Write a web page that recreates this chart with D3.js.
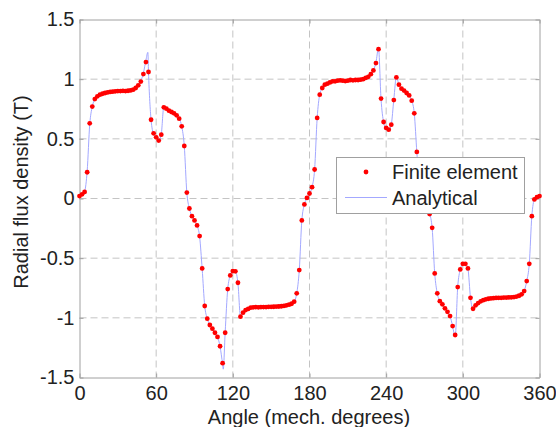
<!DOCTYPE html>
<html>
<head>
<meta charset="utf-8">
<script src="https://cdn.jsdelivr.net/npm/d3@7"></script>
<style>
  html, body { margin: 0; padding: 0; background: #fff; }
  svg { display: block; font-family: "Liberation Sans", Arial, Helvetica, sans-serif; }
</style>
</head>
<body>
<svg id="chart" width="556" height="427"></svg>
<script>
// Axis ticks
const xTicks = [0, 60, 120, 180, 240, 300, 360];
const yTicks = [-1.5, -1, -0.5, 0, 0.5, 1, 1.5];
const yTickLabels = ["-1.5", "-1", "-0.5", "0", "0.5", "1", "1.5"];

// Finite element samples: one every 2 mechanical degrees, 0..360
const feAngles = d3.range(0, 361, 2);
const feValues = [
  0.02, 0.035, 0.055, 0.22, 0.63, 0.77, 0.833, 0.856, 0.87, 0.878,
  0.884, 0.889, 0.893, 0.895, 0.898, 0.9, 0.9, 0.902, 0.9, 0.903,
  0.906, 0.912, 0.926, 0.948, 0.98, 1.043, 1.143, 1.06, 0.66, 0.546,
  0.513, 0.485, 0.535, 0.764, 0.753, 0.736, 0.725, 0.714, 0.697, 0.669,
  0.605, 0.44, 0.05, -0.084, -0.148, -0.184, -0.226, -0.315, -0.586, -0.901,
  -1.007, -1.06, -1.091, -1.125, -1.16, -1.238, -1.38, -1.125, -0.759, -0.645,
  -0.608, -0.61, -0.706, -0.99, -0.957, -0.935, -0.925, -0.915, -0.912, -0.91,
  -0.912, -0.91, -0.91, -0.91, -0.908, -0.908, -0.907, -0.906, -0.905, -0.903,
  -0.9, -0.895, -0.89, -0.882, -0.865, -0.795, -0.6, -0.184, -0.05, 0.005,
  0.042, 0.095, 0.243, 0.675, 0.87, 0.926, 0.954, 0.962, 0.973, 0.982,
  0.982, 0.987, 0.99, 0.987, 0.984, 0.987, 0.993, 0.99, 0.993, 0.993,
  0.996, 1.0, 1.01, 1.02, 1.042, 1.073, 1.135, 1.251, 0.837, 0.641,
  0.591, 0.577, 0.619, 0.825, 1.015, 0.954, 0.92, 0.904, 0.884, 0.864,
  0.82, 0.714, 0.39, 0.12, 0.0, -0.06, -0.1, -0.13, -0.246, -0.628,
  -0.795, -0.86, -0.887, -0.92, -0.95, -0.985, -1.069, -1.144, -0.742, -0.594,
  -0.547, -0.547, -0.586, -0.832, -0.924, -0.895, -0.876, -0.862, -0.852, -0.845,
  -0.84, -0.837, -0.835, -0.833, -0.832, -0.832, -0.83, -0.83, -0.829, -0.828,
  -0.826, -0.822, -0.815, -0.803, -0.776, -0.692, -0.547, -0.148, -0.008, 0.011,
  0.02
];

// Analytical solution on the same 2-degree grid
const analyticalValues = [
  0.02, 0.035, 0.06, 0.23, 0.62, 0.77, 0.833, 0.856, 0.87, 0.878,
  0.884, 0.889, 0.893, 0.895, 0.898, 0.9, 0.9, 0.902, 0.901, 0.903,
  0.906, 0.912, 0.926, 0.95, 0.985, 1.05, 1.16, 1.06, 0.66, 0.54,
  0.51, 0.485, 0.54, 0.77, 0.755, 0.738, 0.726, 0.714, 0.697, 0.67,
  0.605, 0.44, 0.05, -0.084, -0.148, -0.184, -0.226, -0.32, -0.59, -0.9,
  -1.007, -1.06, -1.091, -1.125, -1.16, -1.24, -1.39, -1.12, -0.76, -0.645,
  -0.605, -0.61, -0.71, -0.99, -0.957, -0.935, -0.925, -0.915, -0.912, -0.91,
  -0.912, -0.91, -0.91, -0.91, -0.908, -0.908, -0.907, -0.906, -0.905, -0.903,
  -0.9, -0.895, -0.89, -0.882, -0.865, -0.795, -0.6, -0.184, -0.05, 0.005,
  0.042, 0.095, 0.243, 0.675, 0.87, 0.926, 0.954, 0.962, 0.973, 0.982,
  0.982, 0.987, 0.99, 0.987, 0.984, 0.987, 0.993, 0.99, 0.993, 0.993,
  0.996, 1.0, 1.01, 1.02, 1.042, 1.075, 1.14, 1.26, 0.83, 0.64,
  0.585, 0.57, 0.62, 0.83, 1.02, 0.954, 0.92, 0.904, 0.884, 0.864,
  0.82, 0.714, 0.39, 0.12, 0.0, -0.06, -0.1, -0.13, -0.25, -0.628,
  -0.795, -0.86, -0.887, -0.92, -0.95, -0.985, -1.07, -1.16, -0.74, -0.594,
  -0.545, -0.545, -0.59, -0.832, -0.93, -0.895, -0.876, -0.862, -0.852, -0.845,
  -0.84, -0.837, -0.835, -0.833, -0.832, -0.832, -0.83, -0.83, -0.829, -0.828,
  -0.826, -0.822, -0.815, -0.803, -0.776, -0.692, -0.547, -0.148, -0.008, 0.011,
  0.02
];
// Extra analytical samples at the slot-opening extremes
const analyticalPeakAngles = [53.5, 112.5];
const analyticalPeakValues = [1.225, -1.43];

const legendLabels = ["Finite element", "Analytical"];

const feColor = "#ff0000";
const lineColor = "#a3a8ff";
const axisColor = "#a0a0a0";
const gridColor = "#c4c4c4";
const textColor = "#222";

const svg = d3.select("#chart");
const plot = { left: 79.5, right: 539.5, top: 19.5, bottom: 377.5 };

const x = d3.scaleLinear().domain([0, 360]).range([plot.left, plot.right]);
const y = d3.scaleLinear().domain([-1.5, 1.5]).range([plot.bottom, plot.top]);

// Dashed grid
const grid = svg.append("g");
grid.selectAll("line.vx")
  .data(xTicks.slice(1, -1))
  .join("line")
  .attr("x1", d => x(d)).attr("x2", d => x(d))
  .attr("y1", plot.top).attr("y2", plot.bottom)
  .attr("stroke", gridColor).attr("stroke-width", 1)
  .attr("stroke-dasharray", "7,4");
grid.selectAll("line.hy")
  .data(yTicks.slice(1, -1))
  .join("line")
  .attr("x1", plot.left).attr("x2", plot.right)
  .attr("y1", d => y(d)).attr("y2", d => y(d))
  .attr("stroke", gridColor).attr("stroke-width", 1)
  .attr("stroke-dasharray", "7,4");

// Axes (ticks point inward, labels on bottom and left)
function styleAxis(g) {
  g.select(".domain").attr("stroke", axisColor);
  g.selectAll(".tick line").attr("stroke", axisColor);
  g.selectAll(".tick text").attr("fill", textColor).style("font-size", "20px")
    .style("font-family", "\"Liberation Sans\", Arial, Helvetica, sans-serif");
}

svg.append("g")
  .attr("transform", `translate(0,${plot.bottom})`)
  .call(d3.axisBottom(x).tickValues(xTicks).tickFormat(d3.format("d"))
    .tickSizeInner(-4).tickSizeOuter(0).tickPadding(8))
  .call(styleAxis);

svg.append("g")
  .attr("transform", `translate(0,${plot.top})`)
  .call(d3.axisTop(x).tickValues(xTicks).tickFormat("")
    .tickSizeInner(-4).tickSizeOuter(0))
  .call(styleAxis);

svg.append("g")
  .attr("transform", `translate(${plot.left},0)`)
  .call(d3.axisLeft(y).tickValues(yTicks)
    .tickFormat((d, i) => yTickLabels[i])
    .tickSizeInner(-4).tickSizeOuter(0).tickPadding(5))
  .call(styleAxis);

svg.append("g")
  .attr("transform", `translate(${plot.right},0)`)
  .call(d3.axisRight(y).tickValues(yTicks).tickFormat("")
    .tickSizeInner(-4).tickSizeOuter(0))
  .call(styleAxis);

// Axis titles
svg.append("text")
  .attr("x", 309).attr("y", 424)
  .attr("text-anchor", "middle")
  .attr("fill", textColor).style("font-size", "20px")
  .text("Angle (mech. degrees)");

svg.append("text")
  .attr("transform", "translate(28,192) rotate(-90)")
  .attr("text-anchor", "middle")
  .attr("fill", textColor).style("font-size", "20px")
  .text("Radial flux density (T)");

// Analytical curve
const analytical = feAngles.map((a, i) => [a, analyticalValues[i]])
  .concat(analyticalPeakAngles.map((a, i) => [a, analyticalPeakValues[i]]))
  .sort((p, q) => p[0] - q[0]);

const line = d3.line()
  .x(d => x(d[0]))
  .y(d => y(d[1]))
  .curve(d3.curveMonotoneX);

svg.append("path")
  .datum(analytical)
  .attr("d", line)
  .attr("fill", "none")
  .attr("stroke", lineColor)
  .attr("stroke-width", 1);

// Finite element points
svg.append("g")
  .selectAll("circle")
  .data(feAngles.map((a, i) => [a, feValues[i]]))
  .join("circle")
  .attr("cx", d => x(d[0]))
  .attr("cy", d => y(d[1]))
  .attr("r", 2.4)
  .attr("fill", feColor);

// Legend
const legend = svg.append("g");
legend.append("rect")
  .attr("x", 336.5).attr("y", 157.5)
  .attr("width", 188).attr("height", 56)
  .attr("fill", "#fff").attr("stroke", axisColor);
legend.append("circle")
  .attr("cx", 366).attr("cy", 172).attr("r", 2.4)
  .attr("fill", feColor);
legend.append("line")
  .attr("x1", 345).attr("x2", 387)
  .attr("y1", 197.5).attr("y2", 197.5)
  .attr("stroke", lineColor).attr("stroke-width", 1);
legend.selectAll("text")
  .data(legendLabels)
  .join("text")
  .attr("x", 392)
  .attr("y", (d, i) => 179 + i * 26)
  .attr("fill", textColor).style("font-size", "20px")
  .text(d => d);
</script>
</body>
</html>
